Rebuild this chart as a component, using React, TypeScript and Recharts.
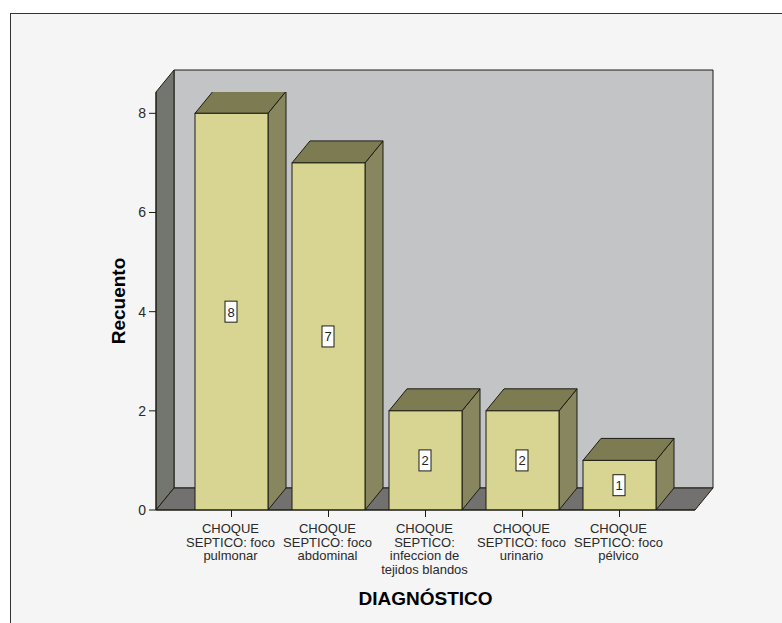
import { Bar, BarChart, LabelList, ReferenceArea, XAxis, YAxis } from "recharts";

const categories = [
  "CHOQUE\nSEPTICO: foco\npulmonar",
  "CHOQUE\nSEPTICO: foco\nabdominal",
  "CHOQUE\nSEPTICO:\ninfeccion de\ntejidos blandos",
  "CHOQUE\nSEPTICO: foco\nurinario",
  "CHOQUE\nSEPTICO: foco\npélvico",
];
const counts = [8, 7, 2, 2, 1];
const yTicks = [0, 2, 4, 6, 8];
const yMax = 8.43;

const data = categories.map((name, i) => ({ name, count: counts[i] }));

// depth of the fake 3D projection
const DX = 18;
const DY = 22;
// space kept between the box sides and the first/last category
const X_PAD = 27;
const INK = "#1c1c14";

function pts(...p: number[][]) {
  return p.map((q) => q.join(",")).join(" ");
}

// back wall, left wall and floor of the chart box
function Box3D({ x: rawX, y, width, height }: any) {
  const x = rawX - X_PAD;
  const r = rawX + width + X_PAD;
  const b = y + height;
  return (
    <g stroke={INK} strokeWidth={1}>
      <polygon
        points={pts([x + DX, y - DY], [r + DX, y - DY], [r + DX, b - DY], [x + DX, b - DY])}
        fill="#c3c4c6"
      />
      <polygon
        points={pts([x, y], [x + DX, y - DY], [x + DX, b - DY], [x, b])}
        fill="#73756f"
      />
      <polygon
        points={pts([x, b], [x + DX, b - DY], [r + DX, b - DY], [r, b])}
        fill="#72716f"
      />
    </g>
  );
}

function Bar3D({ x, y, width, height }: any) {
  const r = x + width;
  const b = y + height;
  return (
    <g stroke={INK} strokeWidth={1}>
      <polygon
        points={pts([r, y], [r + DX, y - DY], [r + DX, b - DY], [r, b])}
        fill="#88865f"
      />
      <polygon
        points={pts([x, y], [x + DX, y - DY], [r + DX, y - DY], [r, y])}
        fill="#7d7b52"
      />
      <rect x={x} y={y} width={width} height={height} fill="#d8d592" />
    </g>
  );
}

function ValueBox({ x, y, width, height, value }: any) {
  const cx = x + width / 2;
  const cy = y + height / 2;
  return (
    <g>
      <rect x={cx - 6.5} y={cy - 10.5} width={12} height={21} fill="#ffffff" stroke={INK} />
      <text
        x={cx - 0.5}
        y={cy + 5}
        textAnchor="middle"
        fontSize={13}
        fontFamily="Liberation Sans"
        fill="#222222"
      >
        {value}
      </text>
    </g>
  );
}

function CategoryTick({ x, y, payload }: any) {
  return (
    <text
      x={x}
      y={y + 2}
      textAnchor="middle"
      fontSize={13}
      fontFamily="Liberation Sans"
      fill="#2a2a2a"
    >
      {String(payload.value)
        .split("\n")
        .map((line, i) => (
          <tspan key={i} x={x - 1} dy={i === 0 ? 12 : 13.5}>
            {line}
          </tspan>
        ))}
    </text>
  );
}

export default function App() {
  return (
    <div
      style={{
        position: "absolute",
        left: 0,
        top: 0,
        width: 782,
        height: 623,
        background: "#ffffff",
        overflow: "hidden",
      }}
    >
      <div
        style={{
          position: "absolute",
          left: 10,
          top: 13,
          width: 772,
          height: 610,
          boxSizing: "border-box",
          borderLeft: "1px solid #333333",
          borderTop: "1px solid #333333",
          background: "#f5f5f5",
        }}
      />
      <div style={{ position: "absolute", left: 0, top: 0 }}>
        <BarChart
          width={782}
          height={623}
          data={data}
          margin={{ top: 92, right: 87, bottom: 0, left: 0 }}
          barCategoryGap={12}
          barSize={73}
        >
          <ReferenceArea y1={0} y2={yMax} shape={<Box3D />} ifOverflow="visible" />
          <YAxis
            width={156}
            domain={[0, yMax]}
            ticks={yTicks}
            interval={0}
            allowDataOverflow
            tick={{ fontSize: 14, fontFamily: "Liberation Sans", fill: "#2a2a2a", dx: -1 }}
            tickLine={{ stroke: INK }}
            tickSize={7}
            axisLine={{ stroke: INK }}
            label={{
              value: "Recuento",
              angle: -90,
              position: "insideLeft",
              dx: 113,
              textAnchor: "middle",
              fontSize: 19,
              fontWeight: "bold",
              fontFamily: "Liberation Sans",
              fill: "#000000",
            }}
          />
          <XAxis
            dataKey="name"
            height={113}
            interval={0}
            padding={{ left: 27, right: 27 }}
            tick={<CategoryTick />}
            tickLine={{ stroke: INK }}
            tickSize={7}
            axisLine={{ stroke: INK }}
            label={{
              value: "DIAGNÓSTICO",
              position: "insideBottom",
              offset: 18,
              fontSize: 19,
              fontWeight: "bold",
              fontFamily: "Liberation Sans",
              fill: "#000000",
            }}
          />
          <Bar dataKey="count" isAnimationActive={false} shape={<Bar3D />}>
            <LabelList dataKey="count" content={<ValueBox />} />
          </Bar>
        </BarChart>
      </div>
    </div>
  );
}
